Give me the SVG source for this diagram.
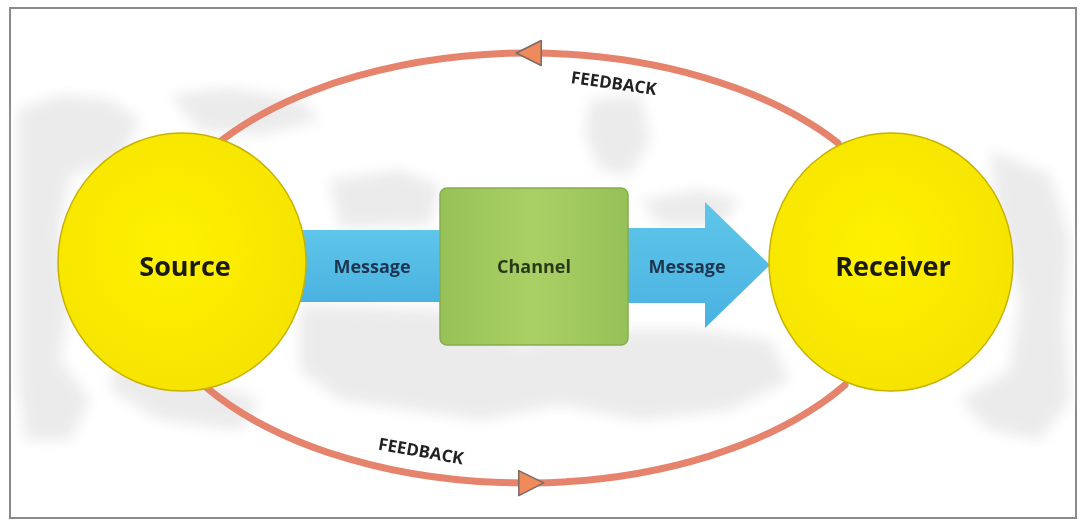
<svg xmlns="http://www.w3.org/2000/svg" width="1083" height="522" viewBox="0 0 1083 522">
<defs>
<style>
.frame{fill:#ffffff;stroke:#8a8a8a;stroke-width:2}
.blob{fill:#e2e2e2;opacity:0.7}
.sun{stroke:#c8b200;stroke-width:1.5}
.fb{fill:none;stroke:#e5836c;stroke-width:7;stroke-linecap:round}
.big{font-family:"Open Sans","Liberation Sans",sans-serif;font-weight:700;font-size:27px;fill:#1a1a10;text-anchor:middle}
.msg{font-family:"Open Sans","Liberation Sans",sans-serif;font-weight:700;font-size:18px;fill:#1e3550;text-anchor:middle}
.ch{font-family:"Open Sans","Liberation Sans",sans-serif;font-weight:700;font-size:18px;fill:#2a3a18;text-anchor:middle}
.fbt{font-family:"Open Sans","Liberation Sans",sans-serif;font-weight:700;font-size:17px;fill:#222;text-anchor:middle}
</style>
<radialGradient id="gSun" cx="0.45" cy="0.45" r="0.6">
<stop offset="0" stop-color="#fff200"/>
<stop offset="1" stop-color="#f5e300"/>
</radialGradient>
<linearGradient id="gBlue" x1="0" y1="0" x2="0" y2="1">
<stop offset="0" stop-color="#5fc6ea"/>
<stop offset="1" stop-color="#49b2e0"/>
</linearGradient>
<linearGradient id="gGreen" x1="0" y1="0" x2="1" y2="0">
<stop offset="0" stop-color="#97c257"/>
<stop offset="0.5" stop-color="#a9d065"/>
<stop offset="1" stop-color="#96c158"/>
</linearGradient>
<filter id="soft" x="-10%" y="-10%" width="120%" height="120%">
<feGaussianBlur stdDeviation="7"/>
</filter>
<marker id="head" markerUnits="userSpaceOnUse" markerWidth="30" markerHeight="30" refX="12" refY="12" orient="auto" viewBox="0 0 24 24">
<path d="M3 2 L23 12 L3 22 Z" fill="#f08a5a" stroke="#7a6a66" stroke-width="1.2" stroke-linejoin="round"/>
</marker>
</defs>

<rect class="frame" x="10" y="8" width="1066" height="510"/>

<g id="background" filter="url(#soft)">
<path class="blob" d="M18 110 L60 95 L110 100 L140 120 L120 160 L70 175 L60 230 L70 300 L60 360 L90 400 L70 440 L25 440 L18 380 Z"/>
<path class="blob" d="M170 95 L230 88 L300 100 L320 120 L260 135 L200 130 Z"/>
<path class="blob" d="M330 180 L400 170 L440 185 L430 225 L340 228 Z"/>
<path class="blob" d="M590 100 L640 95 L650 140 L630 175 L600 170 L585 135 Z"/>
<path class="blob" d="M300 305 L440 310 L520 345 L600 330 L700 330 L770 340 L790 380 L730 410 L640 420 L560 405 L480 420 L410 410 L340 400 L300 370 Z"/>
<path class="blob" d="M640 200 L700 190 L740 200 L720 225 L660 225 Z"/>
<path class="blob" d="M990 150 L1050 175 L1070 240 L1065 320 L1070 400 L1040 440 L990 430 L960 400 L1010 370 L1020 300 L1000 230 Z"/>
<path class="blob" d="M120 330 L200 380 L260 400 L240 430 L160 420 L110 390 Z"/>
</g>

<g id="connectors">
<path id="feedback-top" class="fb" d="M838 143 A383 215 0 0 0 530 53 A383 215 0 0 0 222 140" marker-mid="url(#head)"/>
<path id="feedback-bottom" class="fb" d="M207 388 A383 215 0 0 0 530 483 A383 215 0 0 0 845 385" marker-mid="url(#head)"/>
<g id="message-left">
<rect x="296" y="230" width="150" height="72" fill="url(#gBlue)"/>
<text class="msg" x="372" y="273">Message</text>
</g>
<g id="message-right">
<path d="M622 228 L705 228 L705 202 L770 265 L705 328 L705 303 L622 303 Z" fill="url(#gBlue)"/>
<text class="msg" x="687" y="273">Message</text>
</g>
<text class="fbt" x="613" y="89" transform="rotate(8 613 89)">FEEDBACK</text>
<text class="fbt" x="420" y="457" transform="rotate(10 420 457)">FEEDBACK</text>
</g>

<g id="source">
<ellipse class="sun" cx="182" cy="262" rx="124" ry="129" fill="url(#gSun)"/>
<text class="big" x="185" y="276">Source</text>
</g>

<g id="channel">
<rect x="440" y="188" width="188" height="157" rx="7" fill="url(#gGreen)" stroke="#86ad4c" stroke-width="1.5"/>
<text class="ch" x="534" y="273">Channel</text>
</g>

<g id="receiver">
<ellipse class="sun" cx="891" cy="262" rx="122" ry="129" fill="url(#gSun)"/>
<text class="big" x="893" y="276">Receiver</text>
</g>
</svg>
